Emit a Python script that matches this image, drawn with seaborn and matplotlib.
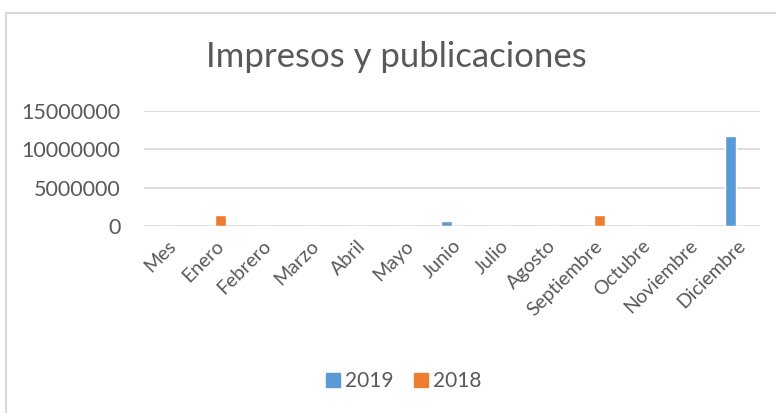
import matplotlib
matplotlib.use("Agg")
import matplotlib.pyplot as plt
import seaborn as sns
import pandas as pd
from matplotlib.patches import Rectangle
from matplotlib.lines import Line2D

months = ["Mes", "Enero", "Febrero", "Marzo", "Abril", "Mayo", "Junio", "Julio",
          "Agosto", "Septiembre", "Octubre", "Noviembre", "Diciembre"]
vals_2019 = [0, 0, 0, 0, 0, 0, 690000, 0, 0, 0, 0, 0, 11700000]
vals_2018 = [0, 1390000, 0, 0, 0, 0, 0, 0, 0, 1390000, 0, 0, 0]
series = ["2019", "2018"]
title = "Impresos y publicaciones"
yticks = [0, 5000000, 10000000, 15000000]

df = pd.DataFrame({
    "Mes": months * 2,
    "Valor": vals_2019 + vals_2018,
    "Serie": [series[0]] * len(months) + [series[1]] * len(months),
})

sns.set_theme(style="white")
plt.rcParams["font.family"] = ["Lato", "DejaVu Sans"]
txt = "#595959"
colors = {"2019": "#5B9BD5", "2018": "#ED7D31"}

W, H = 776, 413
fig = plt.figure(figsize=(W / 100, H / 100), dpi=100)
ax = fig.add_axes([144 / W, 1 - 226 / H, (760 - 144) / W, (226 - 110.7) / H])

sns.barplot(data=df, x="Mes", y="Valor", hue="Serie", palette=colors,
            width=0.46, gap=0, ax=ax, legend=False, saturation=1)

ax.set_ylim(0, 15000000)
ax.set_yticks(yticks)
ax.set_yticklabels([str(v) for v in yticks], fontsize=15.5, color=txt)
ax.yaxis.grid(True, color="#d9d9d9", linewidth=1.2)
ax.set_axisbelow(True)
for s in ax.spines.values():
    s.set_visible(False)
ax.tick_params(axis="y", length=0, pad=17)
ax.tick_params(axis="x", length=0, pad=8)
ax.set_xlabel("")
ax.set_ylabel("")
ax.set_xlim(-0.5, len(months) - 0.5)
plt.setp(ax.get_xticklabels(), rotation=45, ha="right", va="top",
         rotation_mode="anchor", fontsize=14, color=txt)

fig.text(396 / W, 1 - 57 / H, title, ha="center", va="center",
         fontsize=25, color=txt)

handles = [Line2D([0], [0], marker="s", linestyle="", markersize=9.5,
                  markerfacecolor=colors[s], markeredgecolor=colors[s]) for s in series]
fig.legend(handles, series, loc="center", bbox_to_anchor=(402 / W, 1 - 381 / H),
           ncol=2, frameon=False, fontsize=15, labelcolor=txt,
           handletextpad=0.1, columnspacing=0.8, handlelength=1.0)

fig.add_artist(Rectangle((6 / W, -0.1), 1.2, (1 - 13 / H) + 0.1,
                         transform=fig.transFigure, fill=False,
                         edgecolor="#d9d9d9", linewidth=1.5))

fig.savefig("out.png", dpi=100, facecolor="white")
